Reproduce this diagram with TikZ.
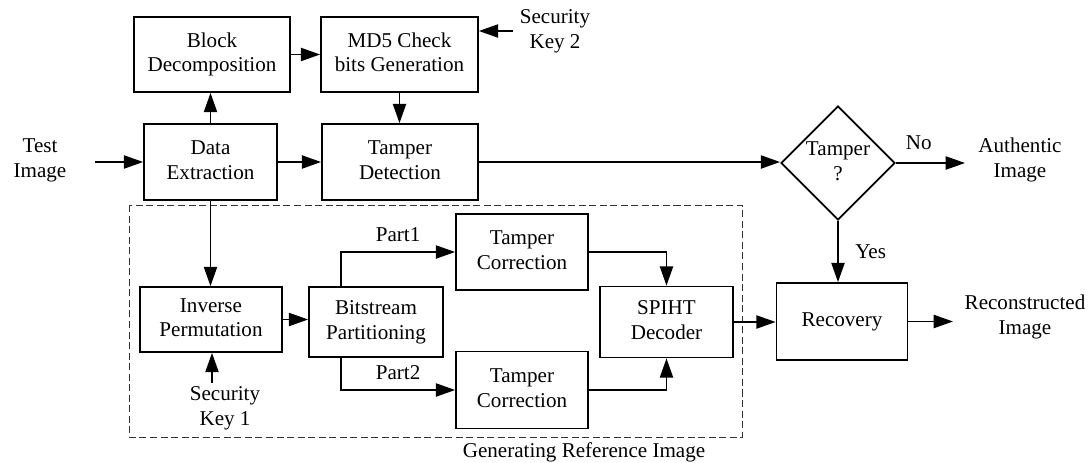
\documentclass[tikz,border=0pt]{standalone}
\usepackage{fontspec}
\setmainfont{Liberation Serif}
\usetikzlibrary{%
   arrows.meta,%
   shapes.geometric%
}

\begin{document}
\begin{tikzpicture}[x=0.02cm,y=-0.02cm,
	font=\fontsize{12}{14.2}\selectfont,
	block/.style={
	rectangle,
	line width=1pt,
	draw=black,
	inner sep=0pt
	},decision/.style={
	diamond,
	line width=1pt,draw=black,
	minimum width=2.2cm,minimum height=2.14cm,
	inner sep=0pt
	},plain/.style={
	inner sep=0pt
	},line/.style={
	line width=1pt,-{Triangle[length=11pt,width=7.5pt]}
	},region/.style={
	thin,draw=black!80,dash pattern=on 4pt off 2pt
	}
]

\useasboundingbox (0,0) rectangle (1090,463);

% First row
\node (atomBlock) [block,minimum width=3.12cm,minimum height=1.5cm] at (212,54.5) {\begin{tabular}{c} Block \\ Decomposition \end{tabular}};
\node (atomMD5) [block,minimum width=3.14cm,minimum height=1.5cm] at (399.5,54.5) {\begin{tabular}{c} MD5 Check \\ bits Generation \end{tabular}};
\node (atomKey2) [plain] at (555,31) {\begin{tabular}{c} Security \\ Key 2 \end{tabular}};

% Second row
\node (atomTest) [plain] at (40,160) {\begin{tabular}{c} Test \\ Image \end{tabular}};
\node (atomData) [block,minimum width=2.66cm,minimum height=1.52cm] at (210.5,162) {\begin{tabular}{c} Data \\ Extraction \end{tabular}};
\node (atomDetect) [block,minimum width=3.12cm,minimum height=1.52cm] at (400,162) {\begin{tabular}{c} Tamper \\ Detection \end{tabular}};
\node (atomDecide) [decision] at (838,163) {\begin{tabular}{@{}c@{}} Tamper \\ ? \end{tabular}};
\node (atomAuth) [plain] at (1020,160) {\begin{tabular}{c} Authentic \\ Image \end{tabular}};

% Third row
\draw[region] (129,205) rectangle (742,437);
\node (atomGen) [plain] at (584,452) {Generating Reference Image};
\node (atomInv) [block,minimum width=2.84cm,minimum height=1.3cm] at (211,319.5) {\begin{tabular}{c} Inverse \\ Permutation \end{tabular}};
\node (atomBits) [block,minimum width=2.68cm,minimum height=1.4cm] at (376,322) {\begin{tabular}{c} Bitstream \\ Partitioning \end{tabular}};
\node (atomKey1) [plain] at (225,408) {\begin{tabular}{c} Security \\ Key 1 \end{tabular}};
\node (atomCorr1) [block,minimum width=2.64cm,minimum height=1.52cm] at (522,252) {\begin{tabular}{c} Tamper \\ Correction \end{tabular}};
\node (atomCorr2) [block,minimum width=2.64cm,minimum height=1.54cm] at (522,390) {\begin{tabular}{c} Tamper \\ Correction \end{tabular}};
\node (atomSPIHT) [block,minimum width=2.66cm,minimum height=1.42cm] at (666.5,322) {\begin{tabular}{c} SPIHT \\ Decoder \end{tabular}};
\node (atomRecov) [block,minimum width=2.62cm,minimum height=1.54cm] at (842,321.5) {Recovery};
\node (atomRecon) [plain] at (1025,317) {\begin{tabular}{c} Reconstructed \\ Image \end{tabular}};

% free ends
\coordinate (POSA) at (95,162);
\coordinate (POSB) at (513,31);
\coordinate (POSC) at (965,163);
\coordinate (POSD) at (953,321.5);
\coordinate (POSE) at (212,383);
\coordinate (POSF) at (341,287);
\coordinate (POSG) at (341,357);

\draw[line] (POSA) -- (atomData);
\draw[line] (atomData.north) -- (atomData.north |- atomBlock.south);
\draw[line] (atomBlock) -- (atomMD5);
\draw[line] (POSB) -- (POSB -| atomMD5.east);
\draw[line] (atomMD5.south) -- (atomMD5.south |- atomDetect.north);
\draw[line] (atomData) -- (atomDetect);
\draw[line] (atomDetect.east) -- (atomDetect.east -| atomDecide.west);
\draw[line] (atomDecide) -- node (atomNo) [pos=0.33,above=4pt] {No} (POSC);
\draw[line] (atomDecide.south) -- node (atomYes) [right=6pt] {Yes} (atomDecide.south |- atomRecov.north);
\draw[line] (atomRecov) -- (POSD);
\draw[line] (atomData.south) -- (atomData.south |- atomInv.north);
\draw[line] (POSE) -- (POSE |- atomInv.south);
\draw[line] (atomInv.east) -- (atomInv.east -| atomBits.west);
\draw[line] (POSF) |- node (atomPart1) [pos=0.75,above=2pt] {Part1} (atomCorr1.west);
\draw[line] (POSG) |- node (atomPart2) [pos=0.75,above=2pt] {Part2} (atomCorr2.west);
\draw[line] (atomCorr1.east) -| (atomSPIHT.north);
\draw[line] (atomCorr2.east) -| (atomSPIHT.south);
\draw[line] (atomSPIHT.east) -- (atomSPIHT.east -| atomRecov.west);

\end{tikzpicture}
\end{document}
